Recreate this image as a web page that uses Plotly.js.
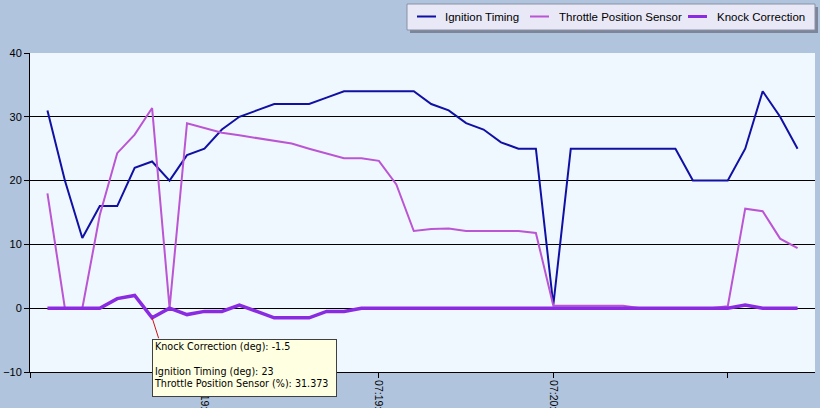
<!DOCTYPE html>
<html>
<head>
<meta charset="utf-8">
<script src="https://cdn.plot.ly/plotly-3.0.1.min.js"></script>
<style>
  html, body { margin: 0; padding: 0; background: #B0C4DE; }
  #chart { width: 820px; height: 408px; }
</style>
</head>
<body>
<div id="chart"></div>
<script>
// Sample time stamps (one per logged sample)
const times = [
  "07:19:31","07:19:32","07:19:33","07:19:34","07:19:35","07:19:36","07:19:37","07:19:38","07:19:39","07:19:40",
  "07:19:41","07:19:42","07:19:43","07:19:44","07:19:45","07:19:46","07:19:47","07:19:48","07:19:49","07:19:50",
  "07:19:51","07:19:52","07:19:53","07:19:54","07:19:55","07:19:56","07:19:57","07:19:58","07:19:59","07:20:00",
  "07:20:01","07:20:02","07:20:03","07:20:04","07:20:05","07:20:06","07:20:07","07:20:08","07:20:09","07:20:10",
  "07:20:11","07:20:12","07:20:13","07:20:14"
];

// Ignition Timing (deg)
const ignitionTiming = [
  31, 20, 11, 16, 16, 22, 23, 20, 24, 25,
  28, 30, 31, 32, 32, 32, 33, 34, 34, 34,
  34, 34, 32, 31, 29, 28, 26, 25, 25, 0.5,
  25, 25, 25, 25, 25, 25, 25, 20, 20, 20,
  25, 34, 30, 25
];

// Throttle Position Sensor (%)
const throttlePosition = [
  18, 0, 0, 14.6, 24.3, 27.2, 31.373, 0, 29, 28.2,
  27.5, 27.1, 26.7, 26.3, 25.8, 25, 24.2, 23.5, 23.5, 23.1,
  19.4, 12.1, 12.4, 12.5, 12.1, 12.1, 12.1, 12.1, 11.8, 0.4,
  0.4, 0.4, 0.4, 0.4, 0, 0, 0, 0, 0, 0.3,
  15.6, 15.2, 10.9, 9.4
];

// Knock Correction (deg)
const knockCorrection = [
  0, 0, 0, 0, 1.5, 2, -1.5, 0, -1, -0.5,
  -0.5, 0.5, -0.5, -1.5, -1.5, -1.5, -0.5, -0.5, 0, 0,
  0, 0, 0, 0, 0, 0, 0, 0, 0, 0,
  0, 0, 0, 0, 0, 0, 0, 0, 0, 0,
  0.5, 0, 0, 0
];

// Axis ticks (labels as they appear, cut by the window edge)
const xTickVals = [-1, 9, 19, 29, 39];
const xTickText = ["", "07:19:", "07:19:", "07:20:", ""];
const yTickVals = [-10, 0, 10, 20, 30, 40];

// Series names / colours
const seriesNames = ["Ignition Timing", "Throttle Position Sensor", "Knock Correction"];
const seriesColors = ["#1010A4", "#BA55D3", "#8A2BE2"];
const seriesWidths = [2, 2, 3.5];

// Hovered sample shown in the tooltip
const hoverIndex = 6;

const xs = times.map((t, i) => i);
const seriesValues = [ignitionTiming, throttlePosition, knockCorrection];

const traces = seriesNames.map((name, k) => ({
  name: name, x: xs, y: seriesValues[k], type: "scatter", mode: "lines",
  line: { color: seriesColors[k], width: seriesWidths[k] }, text: times, hoverinfo: "skip"
}));

const tipText =
  "Knock Correction (deg): " + knockCorrection[hoverIndex] + "<br><br>" +
  "Ignition Timing (deg): " + ignitionTiming[hoverIndex] + "<br>" +
  "Throttle Position Sensor (%): " + throttlePosition[hoverIndex];

const px = (p) => (p - 30) / 785;     // pixel -> paper x
const py = (p) => (372 - p) / 319;    // pixel -> paper y

// Legend box drawn in paper space
const legendSampleX = [417, 530, 688];
const legendTextX = [443, 557, 715];
const legendY = 16.5;

const shapes = [
  { type: "rect", xref: "paper", yref: "paper",
    x0: px(410), x1: px(818), y0: py(33), y1: py(7),
    line: { width: 0 }, fillcolor: "#7C8698", layer: "above" },
  { type: "rect", xref: "paper", yref: "paper",
    x0: px(407), x1: px(815), y0: py(30), y1: py(4),
    line: { width: 1, color: "#8A92A6" }, fillcolor: "#E8E8F7", layer: "above" }
];
const annotations = [];
seriesNames.forEach((name, k) => {
  shapes.push({ type: "line", xref: "paper", yref: "paper",
    x0: px(legendSampleX[k]), x1: px(legendSampleX[k] + 19), y0: py(legendY), y1: py(legendY),
    line: { color: seriesColors[k], width: seriesWidths[k] === 2 ? 2 : 3 }, layer: "above" });
  annotations.push({ xref: "paper", yref: "paper", x: px(legendTextX[k]), y: py(legendY + 0.5),
    xanchor: "left", yanchor: "middle", showarrow: false, text: name,
    font: { family: "Liberation Sans, Arial, sans-serif", size: 11.5, color: "#000" } });
});

annotations.push(
  { x: hoverIndex, y: knockCorrection[hoverIndex], xref: "x", yref: "y",
    text: "", showarrow: true, arrowhead: 0, arrowwidth: 1, arrowcolor: "#D01010",
    ax: 7, ay: 22, standoff: 0 },
  { x: hoverIndex, y: knockCorrection[hoverIndex], xref: "x", yref: "y",
    text: tipText, showarrow: false, xanchor: "left", yanchor: "top",
    xshift: 0, yshift: -21, align: "left", valign: "top",
    width: 181, height: 54,
    bgcolor: "#FFFFE1", bordercolor: "#404040", borderwidth: 1, borderpad: 1,
    font: { family: "DejaVu Sans, Verdana, sans-serif", size: 9.6, color: "#000" } }
);

const layout = {
  width: 820, height: 408,
  margin: { l: 30, r: 5, t: 53, b: 36, pad: 0 },
  paper_bgcolor: "#B0C4DE",
  plot_bgcolor: "#F0F8FF",
  font: { family: "Liberation Sans, Arial, sans-serif", size: 11, color: "#000" },
  showlegend: false,
  xaxis: {
    range: [-1, 44], showgrid: false, zeroline: false,
    tickmode: "array", tickvals: xTickVals, ticktext: xTickText,
    ticks: "outside", ticklen: 5, tickcolor: "#000", tickangle: 90,
    showline: true, linecolor: "#000", linewidth: 1,
    tickfont: { size: 10.5, color: "#000" }, fixedrange: true
  },
  yaxis: {
    range: [-10, 40], tickmode: "array", tickvals: yTickVals,
    showgrid: true, gridcolor: "#000", gridwidth: 1,
    zeroline: true, zerolinecolor: "#000", zerolinewidth: 1,
    ticks: "outside", ticklen: 5, tickcolor: "#000",
    showline: true, linecolor: "#000", linewidth: 1,
    tickfont: { size: 11, color: "#000" }, fixedrange: true
  },
  shapes: shapes,
  annotations: annotations
};

Plotly.newPlot("chart", traces, layout, { displayModeBar: false, staticPlot: true });
</script>
</body>
</html>
